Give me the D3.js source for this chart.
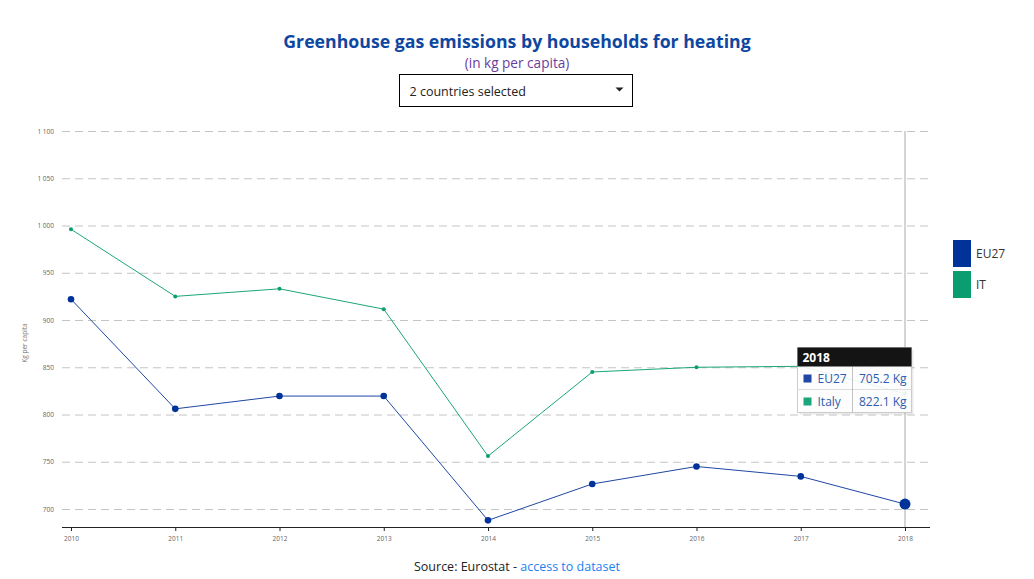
<!DOCTYPE html>
<html>
<head>
<meta charset="utf-8">
<script src="https://cdn.jsdelivr.net/npm/d3@7"></script>
<style>
	body { margin: 0; background: #fff; font-family: "Open Sans", sans-serif; }
	#chart { position: relative; width: 1034px; height: 579px; }
	.grid line { stroke: #c4c4c4; stroke-dasharray: 8,5; }
	.tick text { fill: #666; }
</style>
</head>
<body>
<div id="chart"></div>
<script>
// data
var years = [2010, 2011, 2012, 2013, 2014, 2015, 2016, 2017, 2018];
var eu27 = [922, 806, 819.5, 819.5, 688, 726.5, 745, 734.5, 705.2];
var italy = [996, 925, 933, 911.5, 756, 845, 850, 851, 822.1];
var seriesNames = ["EU27", "IT"];
var tooltipNames = ["EU27", "Italy"];
var seriesColors = ["#003399", "#0a9d6f"];
var lineColors = ["#1f47a3", "#1ba57a"];
var yTicks = [700, 750, 800, 850, 900, 950, 1000, 1050, 1100];
var hoverYear = 2018;

var W = 1034, H = 579;
var margin = {top: 131, right: 104, bottom: 52, left: 62};
var width = W - margin.left - margin.right,
	height = H - margin.top - margin.bottom;

var svg = d3.select("#chart")
	.append("svg")
	.attr("width", W)
	.attr("height", H);

// titles
svg.append("text")
	.attr("x", 517).attr("y", 48)
	.attr("text-anchor", "middle")
	.style("font-size", "17.7px").style("font-weight", "bold")
	.style("fill", "#0e47a1")
	.text("Greenhouse gas emissions by households for heating");

svg.append("text")
	.attr("x", 517).attr("y", 68)
	.attr("text-anchor", "middle")
	.style("font-size", "13.6px")
	.style("fill", "#6a3d9f")
	.text("(in kg per capita)");

// dropdown box
var drop = svg.append("g").attr("transform", "translate(399.5,74.5)");
drop.append("rect").attr("width", 233).attr("height", 32)
	.attr("fill", "#fff").attr("stroke", "#000");
drop.append("text").attr("x", 10).attr("y", 21)
	.style("font-size", "12.5px").style("fill", "#222")
	.text("2 countries selected");
drop.append("path").attr("d", "M216,13 L224,13 L220,17 Z").attr("fill", "#222");

var g = svg.append("g")
	.attr("transform", "translate(" + margin.left + "," + margin.top + ")");

var x = d3.scaleLinear()
	.domain([2010, 2018])
	.range([9, 843]);

var y = d3.scaleLinear()
	.domain([700, 1100])
	.range([378, 0]);

// gridlines + y labels
var yAxis = d3.axisLeft(y)
	.tickValues(yTicks)
	.tickSize(-868)
	.tickPadding(8)
	.tickFormat(function(d){ return d3.format(",")(d).replace(",", " "); });

g.append("g")
	.attr("class", "grid")
	.call(yAxis)
	.call(function(a){ a.select(".domain").remove(); })
	.selectAll("text")
	.style("font-size", "6.5px")
	.style("font-family", "Open Sans");

g.append("text")
	.attr("transform", "translate(-35," + (212) + ") rotate(-90)")
	.attr("text-anchor", "middle")
	.style("font-size", "6.5px").style("fill", "#777")
	.text("Kg per capita");

// x axis
var xAxis = d3.axisBottom(x)
	.tickValues(years)
	.tickSize(4)
	.tickPadding(5)
	.tickFormat(d3.format("d"));

var xg = g.append("g")
	.attr("transform", "translate(0," + (height) + ")")
	.call(xAxis);
xg.select(".domain").attr("d", "M0,0.5H868").attr("stroke", "#222");
xg.selectAll(".tick line").attr("stroke", "#222");
xg.selectAll("text").style("font-size", "6.5px").style("font-family", "Open Sans");

// hover line
g.append("line")
	.attr("x1", x(hoverYear)).attr("x2", x(hoverYear))
	.attr("y1", 0).attr("y2", height)
	.attr("stroke", "#aaa").attr("stroke-width", 1);

// lines
var line = d3.line()
	.x(function(d, i){ return x(years[i]); })
	.y(function(d){ return y(d); });

[italy, eu27].forEach(function(data){
	var k = data === eu27 ? 0 : 1;
	g.append("path")
		.datum(data)
		.attr("fill", "none")
		.attr("stroke", lineColors[k])
		.attr("stroke-width", 1)
		.attr("d", line);

	g.selectAll(".dot" + k)
		.data(data)
		.enter()
		.append("circle")
		.attr("cx", function(d, i){ return x(years[i]); })
		.attr("cy", function(d){ return y(d); })
		.attr("r", function(d, i){
			if (k == 0) { return years[i] == hoverYear ? 5.5 : 3.3; }
			return 2;
		})
		.attr("fill", seriesColors[k]);
});

// tooltip
var tip = svg.append("g").attr("transform", "translate(797.5,347.5)");
tip.append("rect").attr("x", 2).attr("y", 2).attr("width", 114).attr("height", 65)
	.attr("fill", "rgba(0,0,0,0.08)");
tip.append("rect").attr("width", 114).attr("height", 65)
	.attr("fill", "rgba(255,255,255,0.9)").attr("stroke", "#ccc");
tip.append("rect").attr("width", 114).attr("height", 19).attr("fill", "#141414");
tip.append("text").attr("x", 5).attr("y", 14)
	.style("font-size", "12px").style("font-weight", "bold").style("fill", "#fff")
	.text(hoverYear);
tip.append("line").attr("x1", 0).attr("x2", 114).attr("y1", 42).attr("y2", 42)
	.attr("stroke", "#ddd");
tip.append("line").attr("x1", 55).attr("x2", 55).attr("y1", 19).attr("y2", 65)
	.attr("stroke", "#888").attr("stroke-dasharray", "1,1");
var tipVals = [eu27[years.indexOf(hoverYear)], italy[years.indexOf(hoverYear)]];
var tipSwatch = ["#1f47a3", "#1aa57a"];
tooltipNames.forEach(function(n, i){
	var ty = 19 + i * 23;
	tip.append("rect").attr("x", 6).attr("y", ty + 8).attr("width", 8).attr("height", 8)
		.attr("fill", tipSwatch[i]);
	tip.append("text").attr("x", 20).attr("y", ty + 16)
		.style("font-size", "12px").style("fill", "#2d5cb0").text(n);
	tip.append("text").attr("x", 109).attr("y", ty + 16).attr("text-anchor", "end")
		.style("font-size", "12px").style("fill", "#2d5cb0")
		.text(d3.format(".1f")(tipVals[i]) + " Kg");
});

// legend
var legend = svg.append("g").attr("transform", "translate(953,240)");
seriesNames.forEach(function(n, i){
	legend.append("rect").attr("x", 0).attr("y", i * 31).attr("width", 18).attr("height", 27)
		.attr("fill", seriesColors[i]);
	legend.append("text").attr("x", 23).attr("y", i * 31 + 18)
		.style("font-size", "12px").style("fill", "#333").text(n);
});

// source
var src = svg.append("text")
	.attr("x", 517).attr("y", 571)
	.attr("text-anchor", "middle")
	.style("font-size", "12.5px");
src.append("tspan").style("fill", "#222").text("Source: Eurostat - ");
src.append("tspan").style("fill", "#1a82f0").text("access to dataset");
</script>
</body>
</html>
